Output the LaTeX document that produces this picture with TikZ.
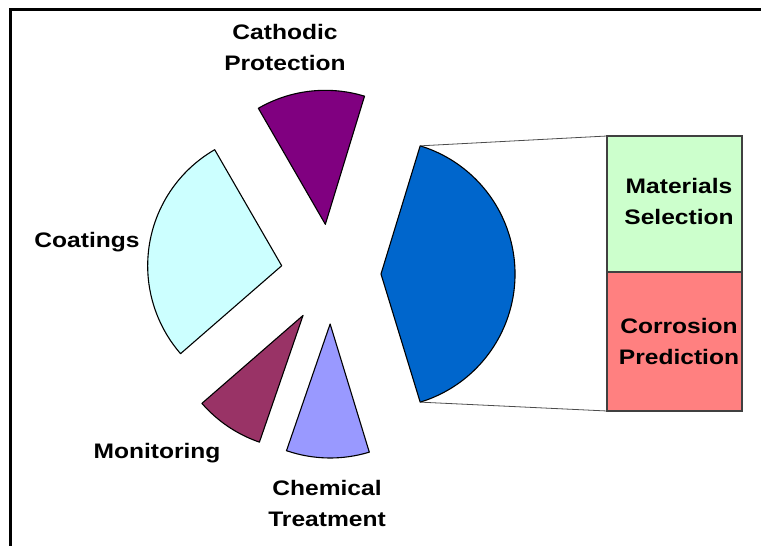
\documentclass[tikz,border=0pt]{standalone}
\usepackage{fontspec}
\setmainfont{Liberation Sans}[FakeStretch=1.17]
\usetikzlibrary{calc}
\definecolor{sliceBlue}{HTML}{0066CC}
\definecolor{slicePurple}{HTML}{800080}
\definecolor{sliceCyan}{HTML}{CCFFFF}
\definecolor{sliceWine}{HTML}{993366}
\definecolor{sliceLav}{HTML}{9999FF}
\definecolor{boxGreen}{HTML}{CCFFCC}
\definecolor{boxRed}{HTML}{FF8080}
\begin{document}
\begin{tikzpicture}[x=1pt,y=1pt,
  sector/.style={draw=black, line width=1.1pt, line join=round},
  barbox/.style={draw=black!75, line width=1.1pt, minimum width=135pt, inner sep=0pt, outer sep=0pt, anchor=north west},
  link/.style={draw=black!70, line width=0.8pt},
  lbl/.style={font=\fontsize{21}{31}\selectfont\bfseries, align=center, inner sep=0pt}]
\useasboundingbox (0,0) rectangle (761,546);
\draw[line width=2.8pt] (10.5,0) -- (10.5,536.3) -- (761,536.3);
\coordinate (C) at (331,272);
% blue
\coordinate (ba) at ($(C)+(0:50)$);
\coordinate (bt) at ($(ba)+(73:134)$);
\coordinate (bb) at ($(ba)+(-73:134)$);
\draw[sector, fill=sliceBlue] (ba) -- (bb) arc[start angle=-73, end angle=73, radius=134] -- cycle;
% cathodic
\coordinate (ca) at ($(C)+(96.5:50)$);
\draw[sector, fill=slicePurple] (ca) -- ++(73:134) arc[start angle=73, end angle=120, radius=134] -- cycle;
% coatings
\coordinate (co) at ($(C)+(170.5:50)$);
\draw[sector, fill=sliceCyan] (co) -- ++(120:134) arc[start angle=120, end angle=221, radius=134] -- cycle;
% monitoring
\coordinate (mo) at ($(C)+(236:50)$);
\draw[sector, fill=sliceWine] (mo) -- ++(221:134) arc[start angle=221, end angle=251, radius=134] -- cycle;
% chemical
\coordinate (ch) at ($(C)+(269:50)$);
\draw[sector, fill=sliceLav] (ch) -- ++(251:134) arc[start angle=251, end angle=287, radius=134] -- cycle;
% bar
\node[barbox, fill=boxGreen, minimum height=136pt] (ms) at (607,410) {};
\node[barbox, fill=boxRed, minimum height=139pt] (cp) at (ms.south west) {};
\draw[link] (bt) -- (ms.north west);
\draw[link] (bb) -- (cp.south west);
% labels
\node[lbl] (lcp) at (285,498) {Cathodic\\Protection};
\node[lbl] (lco) at (87,304) {Coatings};
\node[lbl] (lms) at (679,344.5) {Materials\\Selection};
\node[lbl] (lcr) at (679,204.5) {Corrosion\\Prediction};
\node[lbl] (lmo) at (157,93) {Monitoring};
\node[lbl] (lct) at (327,42.5) {Chemical\\Treatment};
\end{tikzpicture}
\end{document}
